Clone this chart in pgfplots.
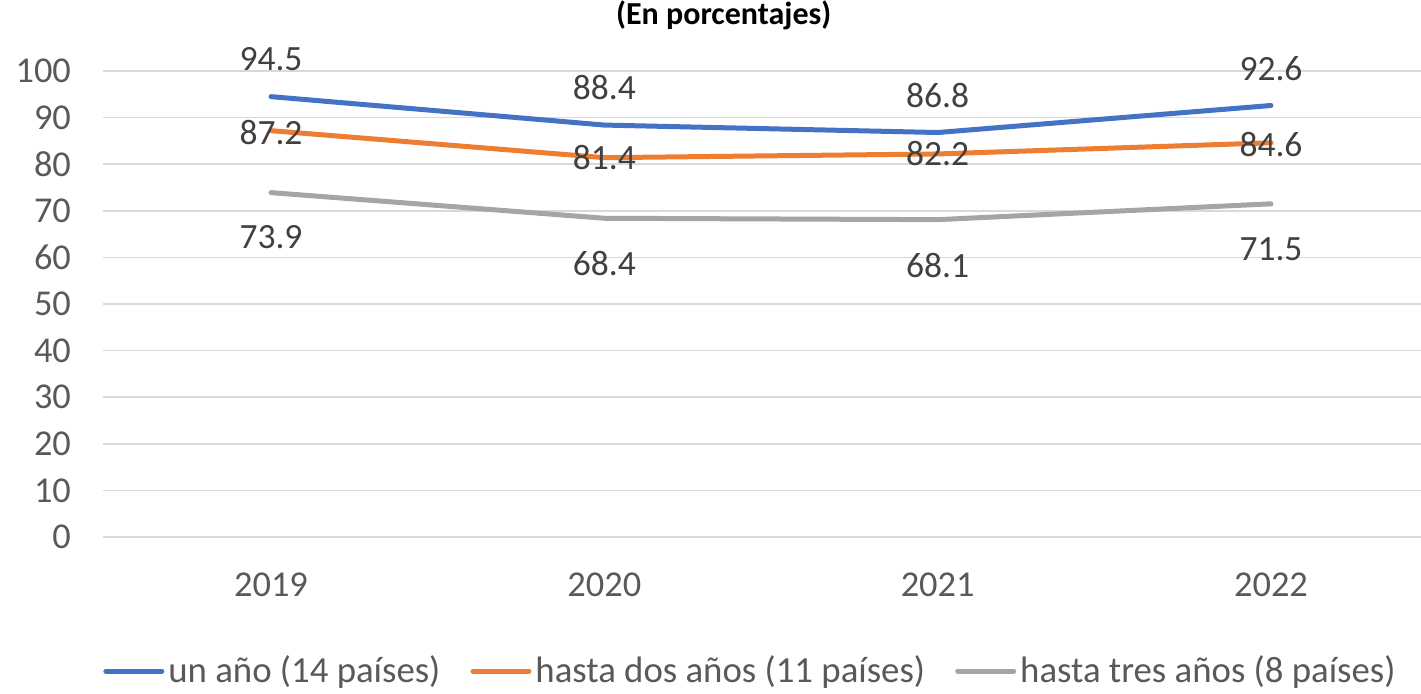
\documentclass[border=0pt]{standalone}
\usepackage{fontspec}
\setmainfont{Carlito}
\usepackage{pgfplots}
\usepackage{pgfplotstable}
\pgfplotsset{compat=1.18}

\definecolor{cblue}{HTML}{4472C4}
\definecolor{corange}{HTML}{ED7D31}
\definecolor{cgray}{HTML}{A5A5A5}
\definecolor{gridgray}{HTML}{D9D9D9}
\definecolor{ticktxt}{HTML}{595959}
\definecolor{lbltxt}{HTML}{404040}

% dy = vertical offset of the data label (pt)
\pgfplotstableread{
x y dy
0 94.5 19
1 88.4 19
2 86.8 18.5
3 92.6 18.5
}\unano
\pgfplotstableread{
x y dy
0 87.2 -1
1 81.4 0
2 82.2 0
3 84.6 -1
}\dosanos
\pgfplotstableread{
x y dy
0 73.9 -22
1 68.4 -22.5
2 68.1 -23
3 71.5 -22.5
}\tresanos

\begin{document}
\begin{tikzpicture}
\begin{axis}[
    at={(0,0)}, anchor=south west,
    scale only axis,
    width=659pt, height=233pt,
    xmin=-0.504, xmax=3.45,
    ymin=0, ymax=100,
    xtick={0,1,2,3},
    xticklabels={2019,2020,2021,2022},
    ytick={0,10,...,100},
    ymajorgrids,
    grid style={draw=gridgray, line width=0.75pt},
    axis line style={draw=none},
    major tick length=0pt,
    clip=false,
    /pgf/number format/assume math mode=true,
    tick label style={font=\fontsize{18.2}{20}\selectfont, text=ticktxt},
    xticklabel style={yshift=-14.5pt},
    yticklabel style={xshift=-12.5pt},
    title={(En porcentajes)},
    title style={at={(0.471,1)}, anchor=center, yshift=22pt,
        font=\fontsize{16}{19}\selectfont\bfseries, text=black},
    nodes near coords,
    point meta=y,
    visualization depends on={\thisrow{dy} \as \dy},
    every node near coord/.append style={anchor=center, yshift=\dy pt,
        font=\fontsize{17.75}{20}\selectfont, text=lbltxt},
    legend image code/.code={\draw[#1, line width=2.5pt] (0pt,0pt) -- (28pt,0pt);},
    legend style={draw=none, legend columns=3, at={(0.492,0)}, anchor=center,
        yshift=-67pt, font=\fontsize{18.4}{20}\selectfont, text=ticktxt,
        inner xsep=0pt, inner ysep=1pt,
        /tikz/every even column/.append style={column sep=13pt}},
    every axis plot/.append style={line width=2.5pt, line cap=round, line join=round},
]
\addplot[cblue, mark=none] table[x=x, y=y] {\unano};
\addlegendentry{un año (14 países)}
\addplot[corange, mark=none] table[x=x, y=y] {\dosanos};
\addlegendentry{hasta dos años (11 países)}
\addplot[cgray, mark=none] table[x=x, y=y] {\tresanos};
\addlegendentry{hasta tres años (8 países)}
\end{axis}
\pgfresetboundingbox
\path[use as bounding box] (-51.5pt,-78pt) rectangle (659pt,268.5pt);
\end{tikzpicture}
\end{document}
